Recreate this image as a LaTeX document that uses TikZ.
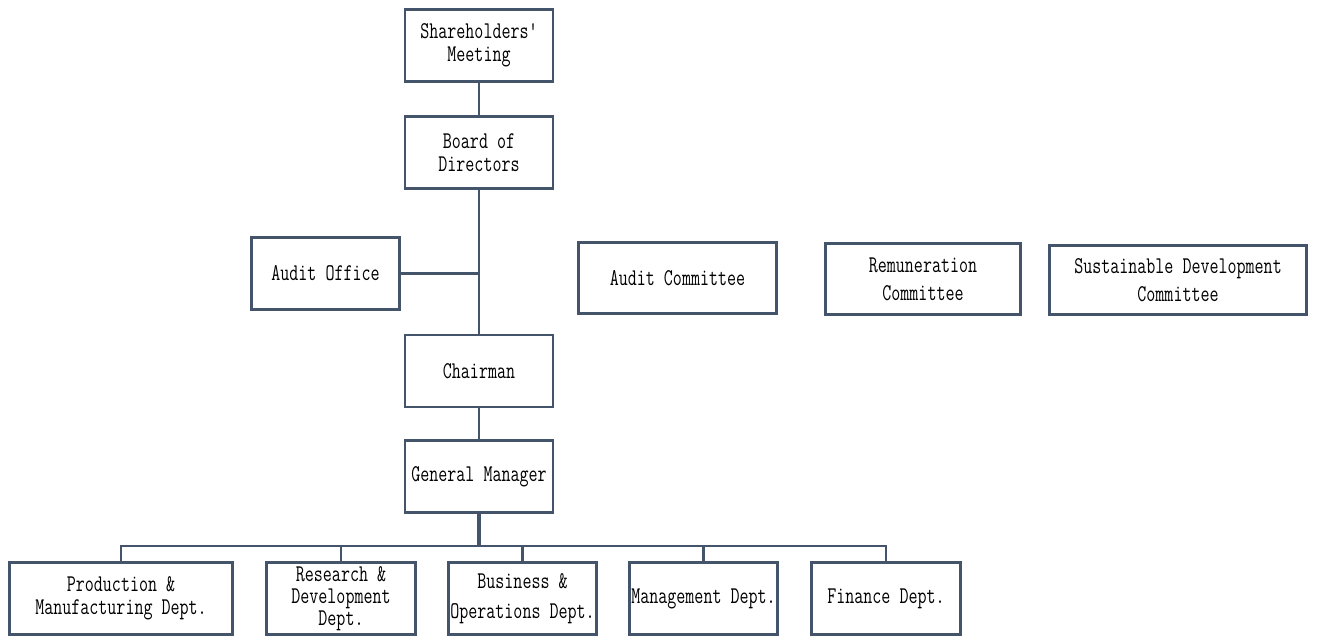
\documentclass[tikz,border=0pt]{standalone}
\usepackage{fontspec}
\newfontfamily\boxfont{Latin Modern Mono}[FakeStretch=0.73]
\definecolor{slate}{HTML}{44546A}
\begin{document}
\begin{tikzpicture}[x=1pt,y=-1pt,
  box/.style={draw=slate, line width=2.8pt, rectangle, inner sep=0pt,
    align=center, font=\boxfont\fontsize{24}{23.5}\selectfont,
    minimum width=148pt, minimum height=72pt},
  link/.style={draw=slate, line width=2.6pt},
  branch/.style={draw=slate, line width=2.2pt},
  stem/.style={draw=slate, line width=3.8pt}]
\useasboundingbox (0,0) rectangle (1317,637);

% governance chain
\node[box] (sm) at (479,45.5) {Shareholders'\\Meeting};
\node[box] (bod) at (479,152.5) {Board of\\Directors};
\node[box] (ao) at (325.5,273.5) {Audit Office};
\node[box] (chair) at (479,371) {Chairman};
\node[box] (gm) at (479,476.5) {General Manager};

% board committees
\node[box, minimum width=198pt, minimum height=71pt] (ac) at (677.5,278) {Audit Committee};
\node[box, minimum width=195pt, minimum height=71pt,
      font=\boxfont\fontsize{24}{28}\selectfont] (rem) at (923,279) {Remuneration\\Committee};
\node[box, minimum width=257pt, minimum height=69pt,
      font=\boxfont\fontsize{24}{28}\selectfont] (sdc) at (1178,280) {Sustainable Development\\Committee};

% departments
\node[box, minimum width=223pt] (prod) at (121,598.5) {Production \&\\Manufacturing Dept.};
\node[box, minimum width=149pt, font=\boxfont\fontsize{24}{22}\selectfont] (rd) at (341,598.5) {Research \&\\Development\\Dept.};
\node[box, font=\boxfont\fontsize{24}{30}\selectfont] (bus) at (522.5,598.5) {Business \&\\Operations Dept.};
\node[box] (mgmt) at (703.5,598.5) {Management Dept.};
\node[box, minimum width=149pt] (fin) at (886,598.5) {Finance Dept.};

% connectors
\coordinate (busy) at (0,546);
\draw[link] (sm.south) -- (bod.north);
\draw[link] (bod.south) -- (chair.north);
\draw[link] (ao.east) -- (ao.east -| bod.south);
\draw[link] (chair.south) -- (gm.north);
\draw[stem] (gm.south) -- (gm.south |- busy);
\draw[branch] (prod.north) -- (prod.north |- busy) -| (fin.north);
\draw[branch] (rd.north) -- (rd.north |- busy);
\draw[branch] (bus.north) -- (bus.north |- busy);
\draw[branch] (mgmt.north) -- (mgmt.north |- busy);
\end{tikzpicture}
\end{document}
